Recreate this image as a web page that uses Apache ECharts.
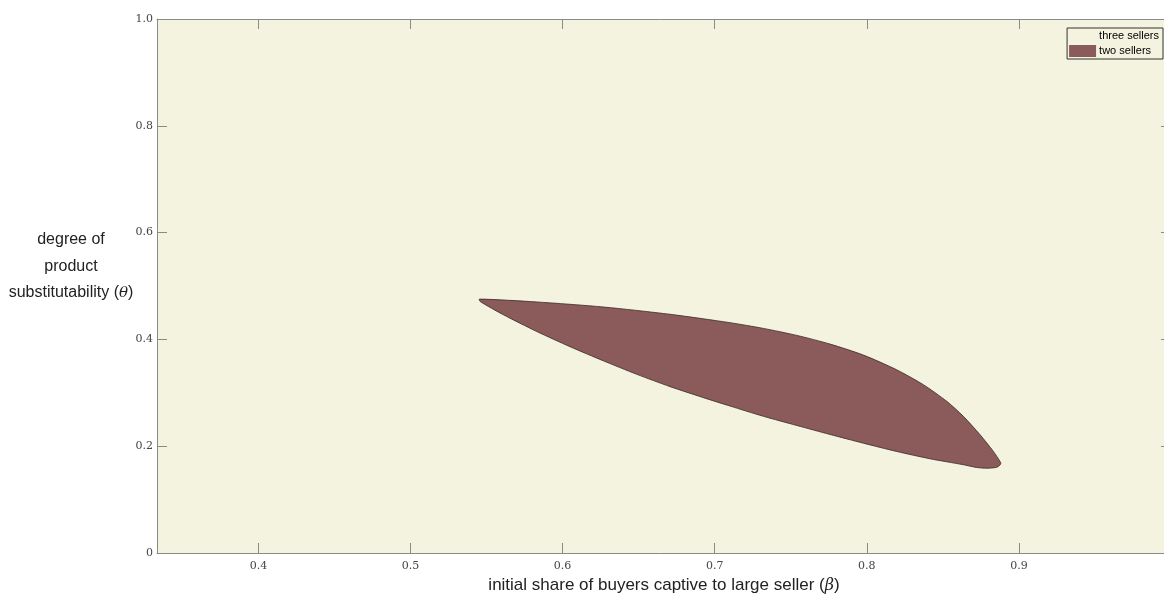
<!DOCTYPE html>
<html>
<head>
<meta charset="utf-8">
<script src="https://cdn.jsdelivr.net/npm/echarts@6/dist/echarts.min.js"></script>
<style>
html,body{margin:0;padding:0;background:#fff;}
#chart{width:1164px;height:597px;}
</style>
</head>
<body>
<div id="chart"></div>
<script>
// Boundary of the "two sellers" region (beta, theta), traced clockwise from the left tip
const boundaryBeta = [
  0.5453, 0.5830, 0.6268, 0.6707, 0.7101, 0.7320, 0.7540, 0.7759, 0.7978, 0.8197,
  0.8372, 0.8526, 0.8635, 0.8745, 0.8832, 0.8876, 0.8881, 0.8855, 0.8789, 0.8723,
  0.8635, 0.8416, 0.8197, 0.7978, 0.7759, 0.7540, 0.7320, 0.7101, 0.6926, 0.6707,
  0.6488, 0.6268, 0.6049, 0.5830, 0.5611, 0.5458
];
const boundaryTheta = [
  0.4755, 0.4701, 0.4607, 0.4470, 0.4313, 0.4206, 0.4075, 0.3912, 0.3706, 0.3430,
  0.3151, 0.2840, 0.2559, 0.2214, 0.1903, 0.1715, 0.1668, 0.1606, 0.1588, 0.1601,
  0.1653, 0.1764, 0.1901, 0.2056, 0.2219, 0.2388, 0.2560, 0.2752, 0.2909, 0.3115,
  0.3346, 0.3599, 0.3863, 0.4148, 0.4461, 0.4710
];
const seriesNames = ['three sellers', 'two sellers'];
const xTickValues = [0.4, 0.5, 0.6, 0.7, 0.8, 0.9];
const yTickValues = [0, 0.2, 0.4, 0.6, 0.8, 1.0];
const yNameLines = ['degree of', 'product', 'substitutability ({g|θ})'];
const xRange = [1/3, 1];
const yRange = [0, 1];

const BEIGE = '#F4F3E0';
const BROWN = '#8B5A5A';
const AXIS = '#8a8a8a';
const LABEL = '#444';

const regionData = boundaryBeta.map((b, i) => [b, boundaryTheta[i]]);

const chart = echarts.init(document.getElementById('chart'), null, {renderer: 'canvas'});

const tickLabelStyle = {
  fontFamily: 'DejaVu Serif', fontSize: 11, color: LABEL
};
const frameLine = {show: true, onZero: false, lineStyle: {color: AXIS, width: 1}};
const frameTick = {show: true, inside: true, length: 10, lineStyle: {color: AXIS}};

const option = {
  animation: false,
  backgroundColor: '#ffffff',
  grid: {
    left: 157, top: 19, width: 1014, height: 534,
    containLabel: false, outerBoundsMode: 'none',
    show: true, backgroundColor: BEIGE, borderWidth: 0
  },
  xAxis: [{
    type: 'value', min: xRange[0], max: xRange[1], position: 'bottom',
    splitNumber: 6,
    axisLine: frameLine, axisTick: frameTick,
    splitLine: {show: false},
    axisLabel: {
      ...tickLabelStyle, margin: 8, showMinLabel: false, showMaxLabel: false,
      formatter: v => (xTickValues.some(t => Math.abs(t - v) < 1e-6) ? v.toFixed(1) : '')
    },
    name: 'initial share of buyers captive to large seller ({g|β})',
    nameLocation: 'middle', nameGap: 23,
    nameTextStyle: {
      fontFamily: 'Liberation Sans', fontSize: 17, color: '#222',
      rich: {g: {fontFamily: 'DejaVu Serif', fontStyle: 'italic', fontSize: 16, color: '#222'}}
    }
  }, {
    type: 'value', min: xRange[0], max: xRange[1], position: 'top',
    splitNumber: 6,
    axisLine: frameLine, axisTick: frameTick,
    splitLine: {show: false},
    axisLabel: {show: false}
  }],
  yAxis: [{
    type: 'value', min: yRange[0], max: yRange[1], interval: 0.2, position: 'left',
    axisLine: frameLine, axisTick: frameTick,
    splitLine: {show: false},
    axisLabel: {
      ...tickLabelStyle, margin: 4,
      formatter: v => (v === 0 ? '0' : v.toFixed(1))
    }
  }, {
    type: 'value', min: yRange[0], max: yRange[1], interval: 0.2, position: 'right',
    axisLine: frameLine, axisTick: frameTick,
    splitLine: {show: false},
    axisLabel: {show: false}
  }],
  legend: {
    orient: 'vertical', right: 1, top: 28,
    data: seriesNames,
    icon: 'rect', itemWidth: 27, itemHeight: 12, itemGap: 3,
    padding: [2, 4, 2, 2],
    borderColor: '#333', borderWidth: 1, borderRadius: 0,
    backgroundColor: BEIGE,
    textStyle: {fontFamily: 'Liberation Sans', fontSize: 11, color: '#000', padding: [0, 0, 0, -2]},
    selectedMode: false
  },
  graphic: yNameLines.map((line, i) => ({
    type: 'text', x: 71, y: 239.5 + i * 26.7,
    style: {
      text: line,
      align: 'center', verticalAlign: 'middle',
      fontFamily: 'Liberation Sans', fontSize: 16, fill: '#222',
      rich: {g: {fontFamily: 'DejaVu Serif', fontStyle: 'italic', fontSize: 15, fill: '#222'}}
    }
  })),
  series: [{
    name: seriesNames[0], type: 'custom', xAxisIndex: 0, yAxisIndex: 0,
    itemStyle: {color: BEIGE},
    data: [],
    renderItem: () => null
  }, {
    name: seriesNames[1], type: 'custom', xAxisIndex: 0, yAxisIndex: 0,
    itemStyle: {color: BROWN},
    data: regionData,
    encode: {x: 0, y: 1},
    renderItem: function (params, api) {
      if (params.dataIndex !== 0) return null;
      const pts = regionData.map(d => api.coord(d));
      return {
        type: 'polygon',
        shape: {points: pts, smooth: 0.25},
        style: {fill: BROWN, stroke: '#3a2a2a', lineWidth: 0.8}
      };
    }
  }]
};
chart.setOption(option);
</script>
</body>
</html>
